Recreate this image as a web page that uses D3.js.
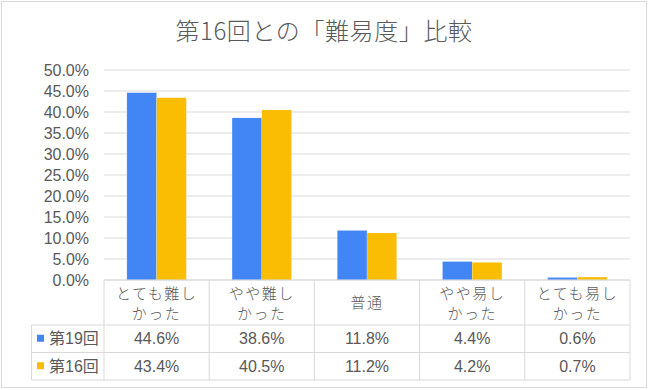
<!DOCTYPE html>
<html><head><meta charset="utf-8">
<script src="https://cdn.jsdelivr.net/npm/d3@7"></script>
<style>body{margin:0;background:#fff}svg{display:block}</style>
</head><body>
<svg id="c" width="650" height="390"></svg>
<script>
const categories = ["とても難し\nかった","やや難し\nかった","普通","やや易し\nかった","とても易し\nかった"];
const seriesNames = ["第19回","第16回"];
const series19 = [44.6,38.6,11.8,4.4,0.6];
const series16 = [43.4,40.5,11.2,4.2,0.7];
const yTicks = [0,5,10,15,20,25,30,35,40,45,50];
const titleText = "第16回との「難易度」比較";
const colors = ["#4285F4","#FBBC04"];
const font = "'Liberation Sans','Noto Sans CJK JP',sans-serif";
const cjkFont = "'Noto Sans CJK JP',sans-serif";
const textColor = "#595959";

const svg = d3.select("#c");
svg.append("rect").attr("x",1.5).attr("y",1.5).attr("width",645).attr("height",386)
  .attr("fill","#fff").attr("stroke","#d9d9d9").attr("stroke-width",1);

svg.append("text").attr("x",324).attr("y",40).attr("text-anchor","middle")
  .attr("font-family",cjkFont).attr("font-weight",300).attr("letter-spacing",0.6)
  .attr("font-size",24).attr("fill",textColor).text(titleText);

const x0 = d3.scaleBand().domain(d3.range(categories.length)).range([104,630]).paddingInner(0).paddingOuter(0);
const y = d3.scaleLinear().domain([0,50]).range([280,70]);
const x1 = d3.scaleBand().domain([0,1]).range([0,x0.bandwidth()]).paddingInner(0).paddingOuter(0.77);

// gridlines
svg.append("g").selectAll("line").data(yTicks).join("line")
  .attr("x1",104).attr("x2",630).attr("y1",d=>y(d)).attr("y2",d=>y(d))
  .attr("stroke","#d9d9d9").attr("stroke-width",1);

// y axis labels
const yAxis = d3.axisLeft(y).tickValues(yTicks).tickSize(0).tickPadding(0).tickFormat(d=>d.toFixed(1)+"%");
const ga = svg.append("g").attr("transform","translate(89,0)").call(yAxis);
ga.select(".domain").remove();
ga.selectAll("text").attr("font-family",font).attr("font-size",16).attr("fill",textColor);

// bars
const allSeries = [series19, series16];
const gb = svg.append("g");
allSeries.forEach((vals,si)=>{
  gb.selectAll(".b"+si).data(vals).join("rect").attr("class","b"+si)
    .attr("x",(d,i)=>x0(i)+x1(si)).attr("width",x1.bandwidth())
    .attr("y",d=>y(d)).attr("height",d=>y(0)-y(d))
    .attr("fill",colors[si]).attr("stroke","#fff").attr("stroke-opacity",0.35).attr("stroke-width",0.5);
});

// table
const tTop = 280, r1 = 325, r2 = 352.5, tBot = 380, leftX = 31.5;
const tg = svg.append("g").attr("stroke","#d9d9d9").attr("stroke-width",1).attr("fill","none");
tg.append("line").attr("x1",104).attr("x2",630).attr("y1",tTop).attr("y2",tTop);
[r1,r2,tBot].forEach(yy=>tg.append("line").attr("x1",leftX).attr("x2",630).attr("y1",yy).attr("y2",yy));
tg.append("line").attr("x1",leftX).attr("x2",leftX).attr("y1",r1).attr("y2",tBot);
d3.range(categories.length+1).forEach(i=>{
  const xx = i<categories.length ? x0(i) : x0.range()[1];
  tg.append("line").attr("x1",xx).attr("x2",xx).attr("y1",tTop).attr("y2",tBot);
});

// category labels
categories.forEach((c,i)=>{
  const lines = c.split("\n");
  const cx = x0(i)+x0.bandwidth()/2;
  const t = svg.append("text").attr("text-anchor","middle").attr("font-family",cjkFont)
    .attr("font-size",15).attr("font-weight",300).attr("fill",textColor).attr("letter-spacing",1.5);
  const startY = lines.length===2 ? 299 : 308;
  lines.forEach((l,k)=>t.append("tspan").attr("x",cx).attr("y",startY+k*20).text(l));
});

// data rows
const rowYs = [(r1+r2)/2, (r2+tBot)/2];
allSeries.forEach((vals,si)=>{
  vals.forEach((v,i)=>{
    svg.append("text").attr("x",x0(i)+x0.bandwidth()/2).attr("y",rowYs[si]+5.5)
      .attr("text-anchor","middle").attr("font-family",font).attr("font-size",16)
      .attr("fill",textColor).text(v.toFixed(1)+"%");
  });
  svg.append("rect").attr("x",37).attr("y",rowYs[si]-4).attr("width",7).attr("height",7).attr("fill",colors[si]);
  svg.append("text").attr("x",49).attr("y",rowYs[si]+5.5).attr("font-family",font).attr("font-size",16)
    .attr("fill",textColor).text(seriesNames[si]);
});
</script>
</body></html>
